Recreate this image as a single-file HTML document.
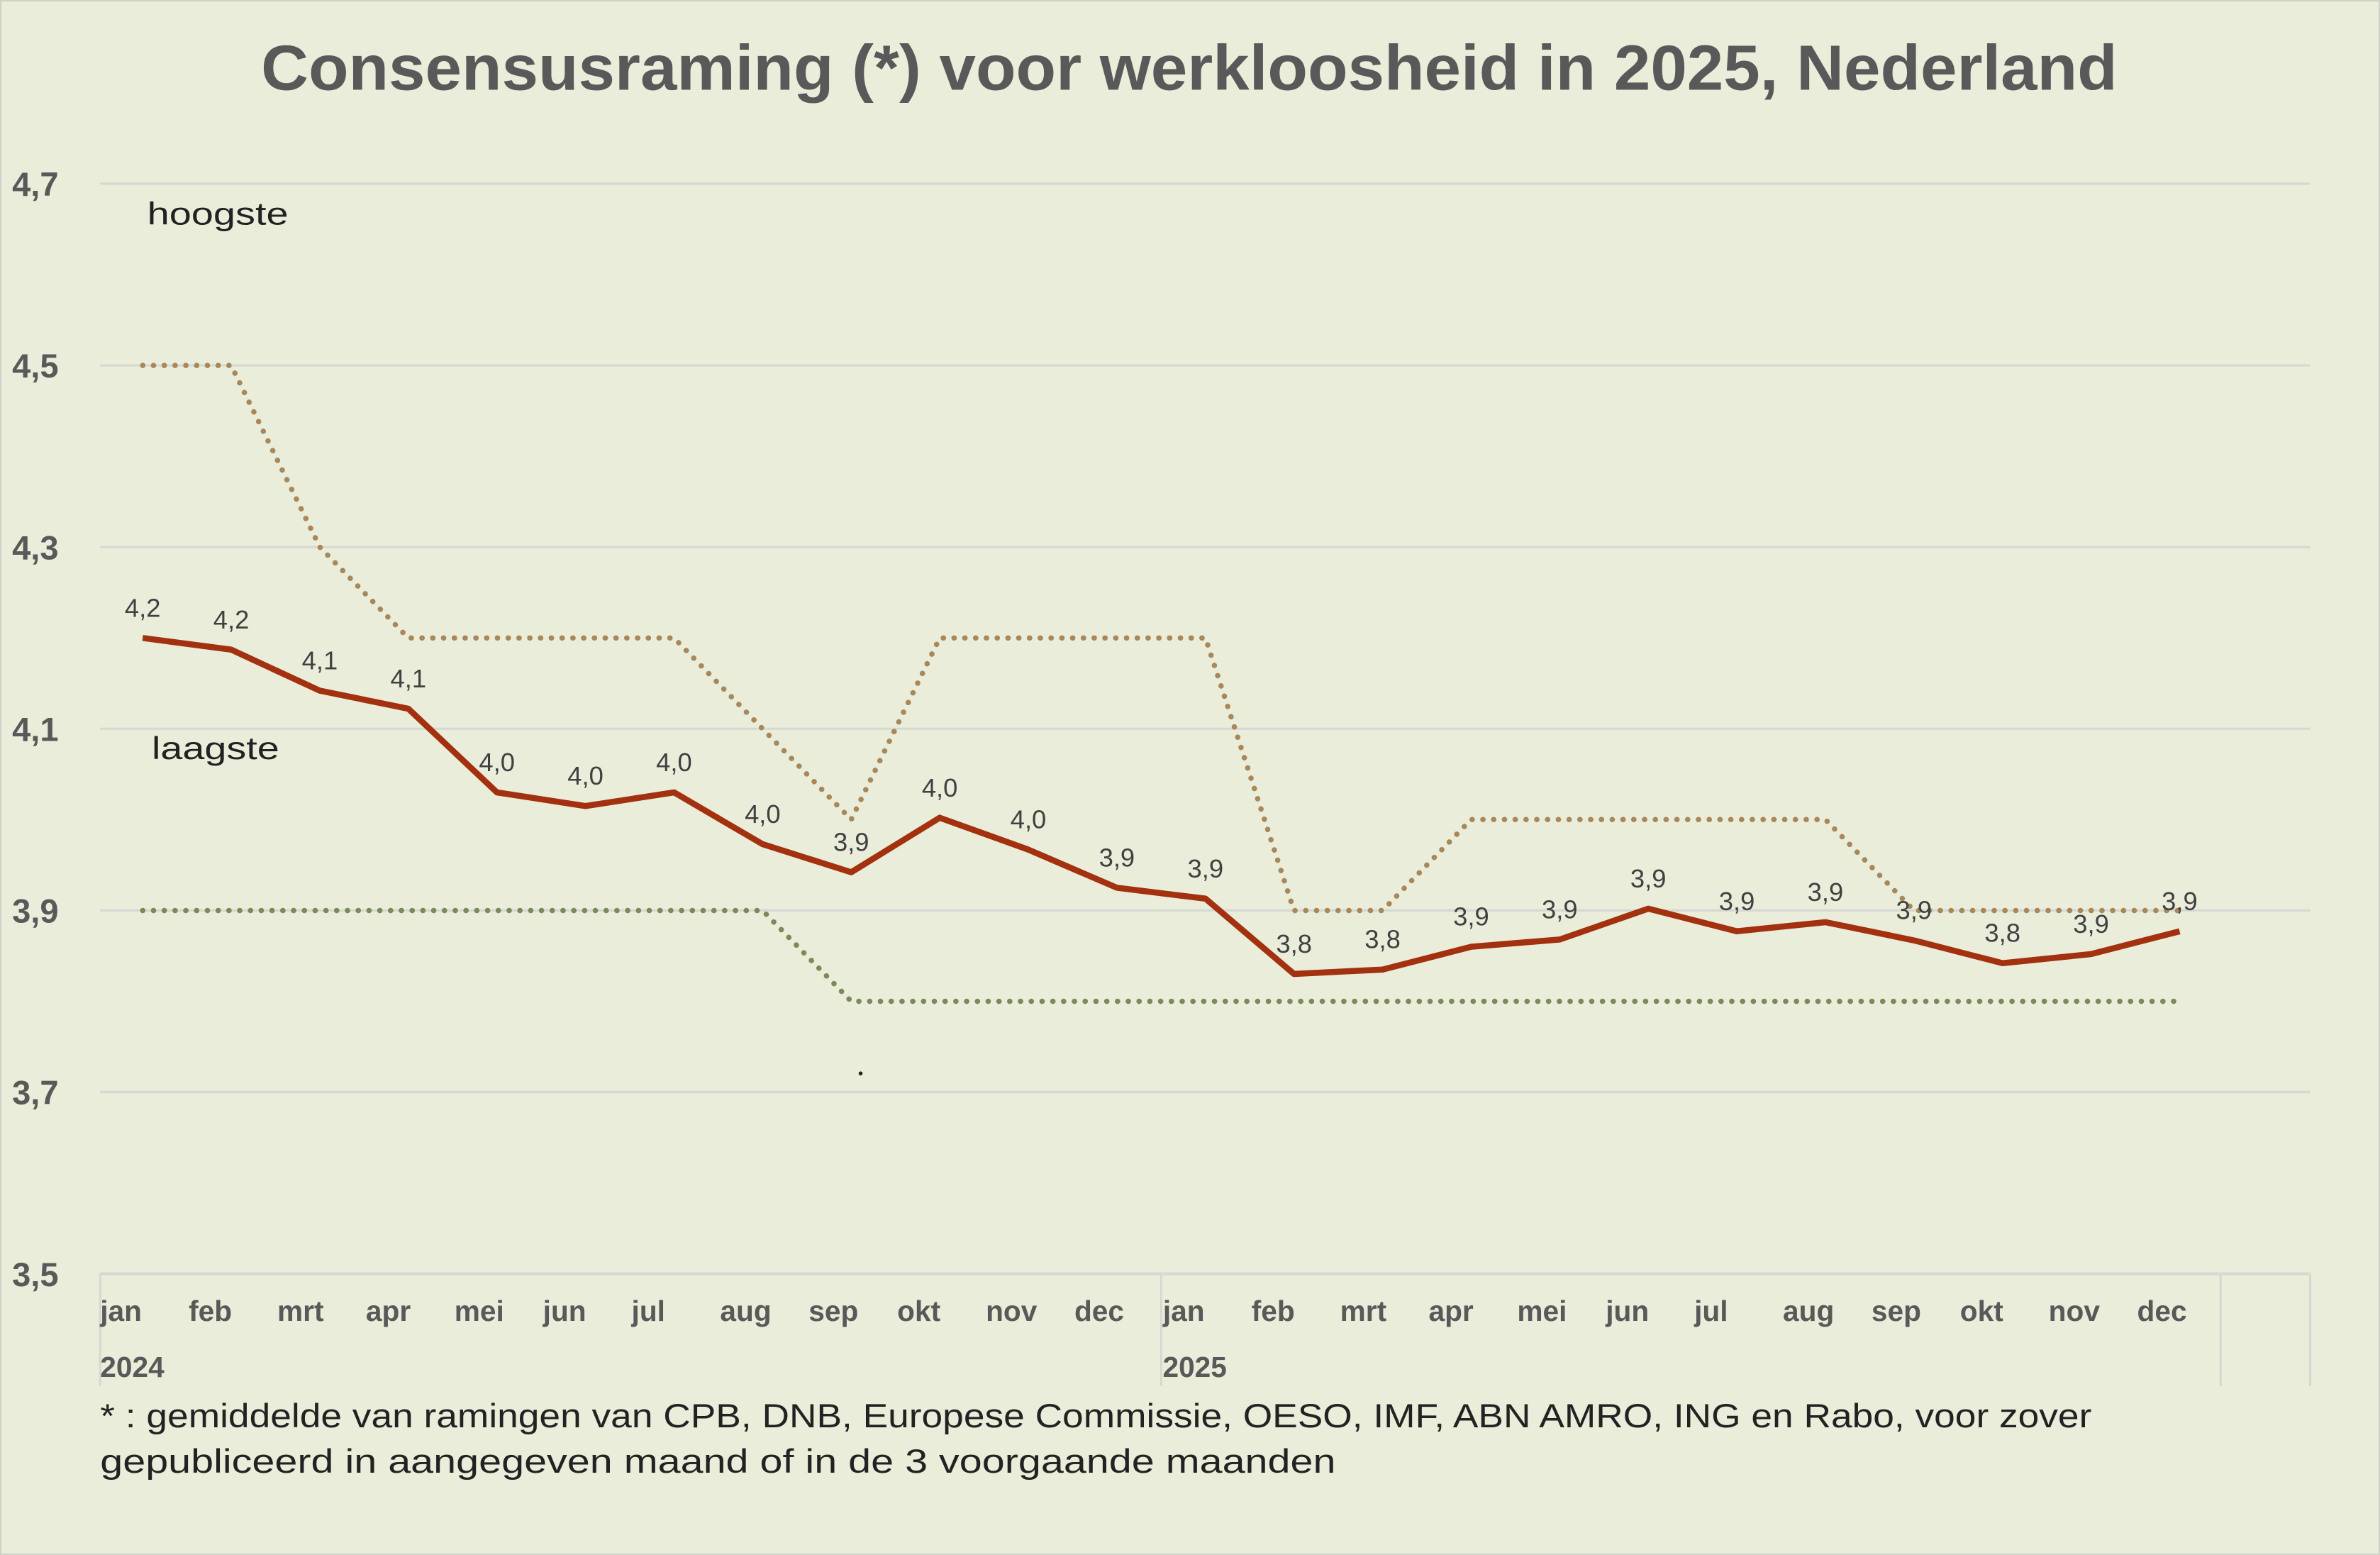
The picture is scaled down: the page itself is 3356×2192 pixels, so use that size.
<!DOCTYPE html>
<html><head><meta charset="utf-8"><style>
html,body{margin:0;padding:0;background:#e9edda;}
svg{display:block;font-family:"Liberation Sans",sans-serif;}
</style></head><body>
<svg id="chart" width="3356" height="2192" viewBox="0 0 1568 1024.2" preserveAspectRatio="none" xmlns="http://www.w3.org/2000/svg">
<rect x="0" y="0" width="1568" height="1024.2" fill="#e9edda" stroke="#cfd2c6" stroke-width="2"/>
<text x="172" y="59" textLength="1223" lengthAdjust="spacingAndGlyphs" font-size="42" font-weight="bold" fill="#595959">Consensusraming (*) voor werkloosheid in 2025, Nederland</text>
<g id="grid"></g>
<g id="axes"></g>
<g id="series"></g>
<text x="97" y="148" textLength="93" lengthAdjust="spacingAndGlyphs" font-size="21" fill="#222">hoogste</text>
<text x="100" y="500" textLength="84" lengthAdjust="spacingAndGlyphs" font-size="21" fill="#222">laagste</text>
<circle cx="567" cy="707" r="1.3" fill="#222"/>
<text x="66" y="940" textLength="1312" lengthAdjust="spacingAndGlyphs" font-size="22" fill="#222">* : gemiddelde van ramingen van CPB, DNB, Europese Commissie, OESO, IMF, ABN AMRO, ING en Rabo, voor zover</text>
<text x="66" y="970" textLength="814" lengthAdjust="spacingAndGlyphs" font-size="22" fill="#222">gepubliceerd in aangegeven maand of in de 3 voorgaande maanden</text>
</svg>
<script>
const months = ["jan","feb","mrt","apr","mei","jun","jul","aug","sep","okt","nov","dec","jan","feb","mrt","apr","mei","jun","jul","aug","sep","okt","nov","dec"];
const years = ["2024","2025"];
const consensus = [4.20,4.187,4.142,4.122,4.03,4.015,4.03,3.973,3.942,4.002,3.967,3.925,3.913,3.83,3.835,3.86,3.868,3.902,3.877,3.887,3.867,3.842,3.852,3.877];
const highest = [4.5,4.5,4.3,4.2,4.2,4.2,4.2,4.1,4.0,4.2,4.2,4.2,4.2,3.9,3.9,4.0,4.0,4.0,4.0,4.0,3.9,3.9,3.9,3.9];
const lowest = [3.9,3.9,3.9,3.9,3.9,3.9,3.9,3.9,3.8,3.8,3.8,3.8,3.8,3.8,3.8,3.8,3.8,3.8,3.8,3.8,3.8,3.8,3.8,3.8];
const yTicks = [3.5,3.7,3.9,4.1,4.3,4.5,4.7];

const NS="http://www.w3.org/2000/svg";
const yMin=3.5,yMax=4.7,yTop=121,yBot=839;
function y(v){return yBot-(v-yMin)/(yMax-yMin)*(yBot-yTop);}
const x0=94,step=(1436-94)/23;
function x(i){return x0+i*step;}
function mk(tag,attrs,parent){const e=document.createElementNS(NS,tag);for(const k in attrs)e.setAttribute(k,attrs[k]);parent.appendChild(e);return e;}
const grid=document.getElementById('grid'),axes=document.getElementById('axes'),ser=document.getElementById('series');

yTicks.forEach(t=>{
  if(t>yMin){
    const l=mk('line',{x1:66,x2:1522,y1:y(t),y2:y(t),stroke:'#d6d9d2','stroke-width':1.5},grid);
    
    
  }
  const tx=mk('text',{x:8,y:y(t)+8,'font-size':22,'font-weight':'bold',fill:'#595959'},axes);
  tx.textContent=t.toFixed(1).replace('.',',');
  
  
});
const ax=mk('line',{x1:66,x2:1522,y1:yBot,y2:yBot,stroke:'#d6d9d2','stroke-width':2},axes);


[66,765,1463,1522].forEach(vx=>{
  const l=mk('line',{x1:vx,x2:vx,y1:yBot,y2:913,stroke:'#d6d9d2','stroke-width':1.5},axes);
  
  
});
months.forEach((m,i)=>{
  const t=mk('text',{x:x(i)-28,y:870,'font-size':19,'font-weight':'bold',fill:'#595959'},axes);
  t.textContent=m;
  
  
});
years.forEach((yr,j)=>{
  const t=mk('text',{x:j===0?66:766,y:907,'font-size':19,'font-weight':'bold',fill:'#595959'},axes);
  t.textContent=yr;
  
  
});
function pts(arr){return arr.map((v,i)=>x(i).toFixed(1)+','+y(v).toFixed(1)).join(' ');}
const hl=mk('polyline',{points:pts(highest),fill:'none',stroke:'#a8875a','stroke-width':3.5,'stroke-dasharray':'0.1 7','stroke-linecap':'round'},ser);


const ll=mk('polyline',{points:pts(lowest),fill:'none',stroke:'#7b8a58','stroke-width':3.5,'stroke-dasharray':'0.1 7','stroke-linecap':'round'},ser);


const cl=mk('polyline',{points:pts(consensus),fill:'none',stroke:'#a3300f','stroke-width':4,'stroke-linejoin':'round'},ser);


consensus.forEach((v,i)=>{
  const t=mk('text',{x:x(i),y:y(v)-14,'font-size':17,'text-anchor':'middle',fill:'#404040'},ser);
  t.textContent=v.toFixed(1).replace('.',',');
  
  
});
</script>
</body></html>
